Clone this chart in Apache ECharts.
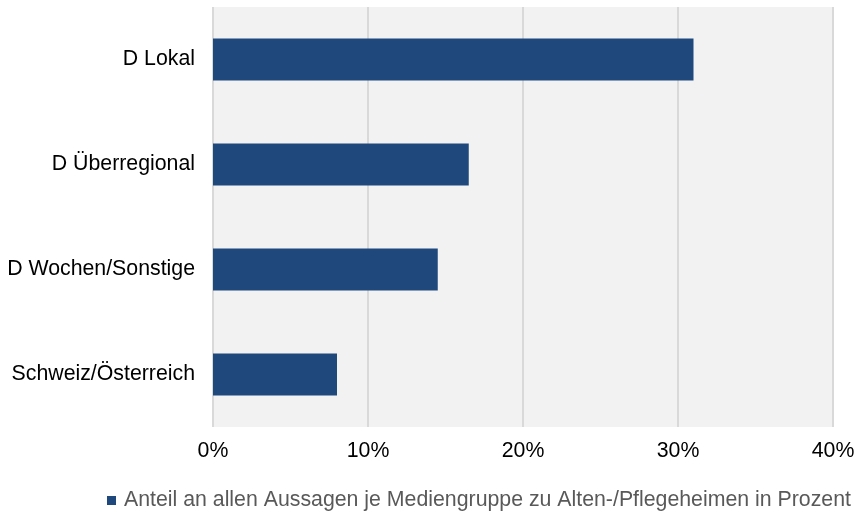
<!DOCTYPE html>
<html>
<head>
<meta charset="utf-8">
<script src="https://cdn.jsdelivr.net/npm/echarts@6/dist/echarts.min.js"></script>
<style>
  html, body { margin: 0; padding: 0; background: #ffffff; }
  #chart { width: 860px; height: 512px; }
</style>
</head>
<body>
<div id="chart"></div>
<script>
// Media groups, top to bottom as shown
const categories = ['D Lokal', 'D Überregional', 'D Wochen/Sonstige', 'Schweiz/Österreich'];
// Share of statements per media group (percent)
const shares = [31.0, 16.5, 14.5, 8.0];
const seriesName = 'Anteil an allen Aussagen je Mediengruppe zu Alten-/Pflegeheimen in Prozent';
const xTicks = { min: 0, max: 40, interval: 10 };

const FONT = 'Liberation Sans, Arial, sans-serif';
const chart = echarts.init(document.getElementById('chart'), null, { renderer: 'canvas' });
chart.setOption({
  animation: false,
  textStyle: { fontFamily: FONT },
  grid: {
    left: 213, right: 27, top: 7, bottom: 85,
    show: true, backgroundColor: '#f2f2f2', borderWidth: 0
  },
  legend: {
    show: true,
    top: 485,
    left: 102,
    icon: 'rect',
    itemWidth: 9, itemHeight: 9, itemGap: 10,
    textStyle: { color: '#595959', fontSize: 21.3, fontFamily: FONT, padding: [2, 0, 0, 3] },
    data: [seriesName]
  },
  xAxis: {
    type: 'value',
    min: xTicks.min, max: xTicks.max, interval: xTicks.interval,
    axisLine: { show: false },
    axisTick: { show: false },
    splitLine: { show: true, lineStyle: { color: '#d9d9d9', width: 2 } },
    axisLabel: {
      formatter: v => v + '%',
      color: '#000000', fontSize: 21.3, margin: 14
    }
  },
  yAxis: {
    type: 'category',
    inverse: true,
    data: categories,
    axisLine: { show: false },
    axisTick: { show: false },
    axisLabel: { color: '#000000', fontSize: 21.3, margin: 18 }
  },
  series: [{
    name: seriesName,
    type: 'bar',
    data: shares,
    barCategoryGap: '60%',
    itemStyle: { color: '#1f497d' }
  }]
});
</script>
</body>
</html>
